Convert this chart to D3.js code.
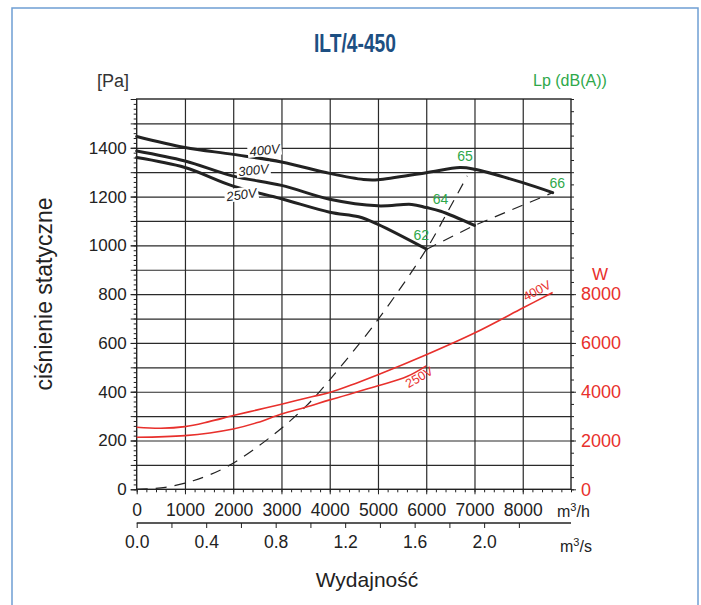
<!DOCTYPE html>
<html><head><meta charset="utf-8">
<script src="https://cdn.jsdelivr.net/npm/d3@7"></script>
<style>
html,body{margin:0;padding:0;background:#fff;}
svg{display:block;}
text{font-family:"Liberation Sans",Arial,Helvetica,sans-serif;}
</style></head>
<body><svg id="c" width="701" height="605"></svg>
<script>
// ---------- data ----------
const title = "ILT/4-450";
// static pressure curves [Pa] vs airflow [m3/h]
const flow400 = [0,1000,2000,3000,4000,4700,5000,6000,6700,7000,8000,8620];
const pres400 = [1446,1401,1373,1342,1295,1270,1269,1298,1319,1312,1257,1216];
const flow300 = [0,1000,2000,3000,4000,5000,5700,6000,6300,7000];
const pres300 = [1387,1346,1284,1246,1189,1162,1168,1155,1140,1082];
const flow250 = [0,1000,2000,3000,4000,4600,5000,6000];
const pres250 = [1360,1319,1243,1191,1136,1117,1086,985];
// power curves [W]
const pflow400 = [0,500,1000,1500,2000,2500,3000,3650,4000,4550,5000,6000,7000,8000,8620];
const power400 = [2545,2504,2570,2775,3022,3255,3489,3801,3966,4351,4692,5513,6404,7430,8071];
const pflow250 = [0,1000,2000,2500,3000,3500,4000,5000,5600,6000];
const power250 = [2135,2200,2475,2734,3091,3366,3666,4241,4622,5062];
// dashed system curve
const sysFlow = [0,590,1170,1900,2830,3520,4000,5000,6000,6450,6850];
const sysPres = [0,8,35,96,223,343,449,696,983,1140,1285];
// dashed sound-level line
const lpFlow = [6000,7000,8620];
const lpPres = [983,1082,1216];
// sound level labels dB(A) with anchor in data units
const lpLabels = ["62","64","65","66"];
const lpLabelFlow = [5897,6296,6803,8717];
const lpLabelPres = [1041,1189,1366,1254];
// tick labels
const yTicks = [0,200,400,600,800,1000,1200,1400];
const wTicks = [0,2000,4000,6000,8000];
const xTicks = [0,1000,2000,3000,4000,5000,6000,7000,8000];
const sTicks = ["0.0","0.4","0.8","1.2","1.6","2.0"];

// ---------- layout ----------
const svg = d3.select("#c");
const L = 136.7, R = 571, T = 99, B = 489.3;
const x = d3.scaleLinear([0,9000],[L,R]);
const y = d3.scaleLinear([0,1600],[B,T]);
const yW = d3.scaleLinear([0,16000],[B,T]);
const xs = d3.scaleLinear([0,2.5],[L,R]);

const black = "#222", red = "#e8302c", green = "#2ea84a", gridC = "#2a2a2a";

// outer frame
svg.append("rect").attr("x",12).attr("y",8).attr("width",686).attr("height",620)
  .attr("fill","none").attr("stroke","#6f9fd3").attr("stroke-width",1.5);

// title (condensed look)
svg.append("text").attr("transform","translate(355,52) scale(0.74,1)").attr("text-anchor","middle")
  .style("font-family","'Liberation Sans',Arial,sans-serif")
  .style("font-weight","bold").style("font-size","26px").attr("fill","#1d4f82").text(title);

svg.append("text").attr("x",97).attr("y",87).style("font-size","18px").attr("fill","#333").text("[Pa]");
svg.append("text").attr("x",533).attr("y",86).style("font-size","16px").attr("fill",green).text("Lp (dB(A))");

// grid
const g = svg.append("g");
g.append("g").attr("transform",`translate(0,${B})`)
  .call(d3.axisBottom(x).tickValues(d3.range(1000,9000,1000)).tickSize(-(B-T)).tickFormat(""))
  .call(a=>a.select(".domain").remove())
  .call(a=>a.selectAll("line").attr("stroke",gridC).attr("stroke-width",1.2));
g.append("g").attr("transform",`translate(${L},0)`)
  .call(d3.axisLeft(y).tickValues(d3.range(100,1600,100)).tickSize(-(R-L)).tickFormat(""))
  .call(a=>a.select(".domain").remove())
  .call(a=>a.selectAll("line").attr("stroke",gridC).attr("stroke-width",1.2));
// frame
svg.append("rect").attr("x",L).attr("y",T).attr("width",R-L).attr("height",B-T)
  .attr("fill","none").attr("stroke",black).attr("stroke-width",1.4);

// left axis minor + major ticks
const styleAx = a=>{a.select(".domain").remove(); a.selectAll("line").attr("stroke",black);};
svg.append("g").attr("transform",`translate(${L},0)`)
  .call(d3.axisLeft(y).tickValues(d3.range(0,1601,20)).tickSize(3).tickFormat("")).call(styleAx);
svg.append("g").attr("transform",`translate(${L},0)`)
  .call(d3.axisLeft(y).tickValues(d3.range(0,1601,100)).tickSize(6).tickFormat("")).call(styleAx);
svg.append("g").attr("transform",`translate(${L},0)`)
  .call(d3.axisLeft(y).tickValues(yTicks).tickSize(6).tickPadding(4).tickFormat(d3.format("d")))
  .call(styleAx)
  .call(a=>a.selectAll("text").style("font-size","17px").style("font-family","'Liberation Sans',Arial,sans-serif").attr("fill","#222"));

// bottom axis
svg.append("g").attr("transform",`translate(0,${B})`)
  .call(d3.axisBottom(x).tickValues(d3.range(0,9001,200)).tickSize(3).tickFormat("")).call(styleAx);
svg.append("g").attr("transform",`translate(0,${B})`)
  .call(d3.axisBottom(x).tickValues(xTicks).tickSize(5).tickPadding(9).tickFormat(d3.format("d")))
  .call(styleAx)
  .call(a=>a.selectAll("text").style("font-size","17.5px").style("font-family","'Liberation Sans',Arial,sans-serif").attr("fill","#222"));
const unitH = svg.append("text").attr("x",557).attr("y",517).style("font-size","16px").attr("fill","#222");
unitH.append("tspan").text("m");
unitH.append("tspan").attr("dy",-6).style("font-size","11px").text("3");
unitH.append("tspan").attr("dy",6).text("/h");

// second axis m3/s
const sAx = svg.append("g").attr("transform",`translate(0,523)`)
  .call(d3.axisBottom(xs).tickValues(d3.range(0,2.21,0.2)).tickSize(5).tickPadding(8)
    .tickFormat(d=>{const s=d.toFixed(1); return sTicks.includes(s)&&Math.round(d*10)%4===0?s:"";}));
sAx.select(".domain").attr("d",`M${L},0H${R}`).attr("stroke",black).attr("stroke-width",1.4);
sAx.selectAll("line").attr("stroke",black);
sAx.selectAll("text").style("font-size","17.5px").style("font-family","'Liberation Sans',Arial,sans-serif").attr("fill","#222");
const unitS = svg.append("text").attr("x",560).attr("y",552).style("font-size","16px").attr("fill","#222");
unitS.append("tspan").text("m");
unitS.append("tspan").attr("dy",-6).style("font-size","11px").text("3");
unitS.append("tspan").attr("dy",6).text("/s");

// right axis (W)
svg.append("g").attr("transform",`translate(${R},0)`)
  .call(d3.axisRight(yW).tickValues(d3.range(0,16001,500)).tickSize(3).tickFormat("")).call(styleAx);
svg.append("g").attr("transform",`translate(${R},0)`)
  .call(d3.axisRight(yW).tickValues(wTicks).tickSize(5).tickPadding(5).tickFormat(d3.format("d")))
  .call(styleAx)
  .call(a=>a.selectAll("text").style("font-size","18px").style("font-family","'Liberation Sans',Arial,sans-serif").attr("fill",red));
svg.append("text").attr("x",600).attr("y",280).attr("text-anchor","middle").style("font-size","17px").attr("fill",red).text("W");

// axis titles
svg.append("text").attr("transform","translate(52,294) rotate(-90)").attr("text-anchor","middle")
  .style("font-size","23px").attr("fill","#222").text("ciśnienie statyczne");
svg.append("text").attr("x",367).attr("y",587).attr("text-anchor","middle")
  .style("font-size","21px").attr("fill","#222").text("Wydajność");

// ---------- curves ----------
const zip = (a,b)=>a.map((v,i)=>[v,b[i]]);
const lineP = d3.line().x(d=>x(d[0])).y(d=>y(d[1])).curve(d3.curveCatmullRom.alpha(0.5));
const lineW = d3.line().x(d=>x(d[0])).y(d=>yW(d[1])).curve(d3.curveCatmullRom.alpha(0.5));
const lineLin = d3.line().x(d=>x(d[0])).y(d=>y(d[1]));

// dashed lines
svg.append("path").attr("d",lineP(zip(sysFlow,sysPres))).attr("fill","none")
  .attr("stroke",black).attr("stroke-width",1.2).attr("stroke-dasharray","11,8");
svg.append("path").attr("d",lineLin(zip(lpFlow,lpPres))).attr("fill","none")
  .attr("stroke",black).attr("stroke-width",1.2).attr("stroke-dasharray","11,8");

// power
svg.append("path").attr("d",lineW(zip(pflow400,power400))).attr("fill","none").attr("stroke",red).attr("stroke-width",1.6);
svg.append("path").attr("d",lineW(zip(pflow250,power250))).attr("fill","none").attr("stroke",red).attr("stroke-width",1.6);

// pressure
[[flow400,pres400],[flow300,pres300],[flow250,pres250]].forEach(([f,p])=>{
  svg.append("path").attr("d",lineP(zip(f,p))).attr("fill","none").attr("stroke",black)
    .attr("stroke-width",3).attr("stroke-linecap","round");
});

// curve labels (black, white background)
const curveLab = [["400V",2650,1390,-6],["300V",2420,1308,-6],["250V",2170,1208,-8]];
curveLab.forEach(([t,q,p,r])=>{
  const gg = svg.append("g").attr("transform",`translate(${x(q)},${y(p)}) rotate(${r})`);
  gg.append("rect").attr("x",-17).attr("y",-7).attr("width",34).attr("height",13).attr("fill","#fff");
  gg.append("text").attr("text-anchor","middle").attr("y",4.5).style("font-size","13px")
    .style("font-style","italic").attr("fill","#222").text(t);
});
// red labels
const powLab = [["400V",8290,8150,-28],["250V",5850,4600,-30]];
powLab.forEach(([t,q,w,r])=>{
  svg.append("text").attr("transform",`translate(${x(q)},${yW(w)}) rotate(${r})`)
    .attr("text-anchor","middle").attr("y",4.5).style("font-size","12.5px").attr("fill",red).text(t);
});
// dB labels
lpLabels.forEach((t,i)=>{
  svg.append("text").attr("x",x(lpLabelFlow[i])).attr("y",y(lpLabelPres[i])+5)
    .attr("text-anchor","middle").style("font-size","14px").attr("fill",green).text(t);
});
</script></body></html>
